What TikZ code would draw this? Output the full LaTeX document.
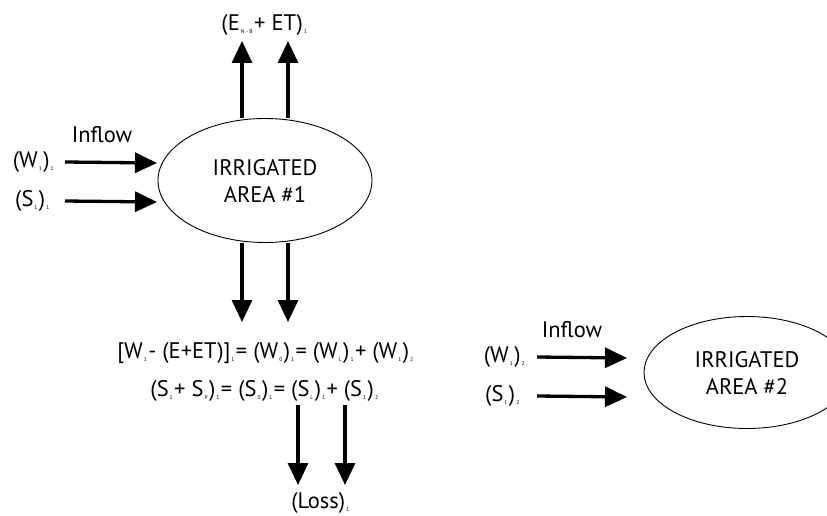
\documentclass[tikz,border=0pt]{standalone}
\usepackage{fontspec}
\setmainfont{PT Sans}
\usetikzlibrary{positioning, arrows.meta, shapes.geometric}

\newcommand{\lo}[1]{\kern1pt\raisebox{-3pt}{\fontsize{5.5}{5.5}\selectfont #1}\kern1.5pt}

\begin{document}
\begin{tikzpicture}[x=1pt, y=-1pt, node distance=2pt,
	font=\fontsize{22.5}{27}\selectfont,
	area/.style={ellipse, draw, line width=0.9pt, inner sep=0pt, align=center},
	flow/.style={-{Triangle[length=22pt,width=20pt]}, line width=3.3pt}]
	\useasboundingbox (0,0) rectangle (827,516);

	% first field
	\node[area, minimum width=214pt, minimum height=124pt] (area1) at (265,180.5) {IRRIGATED\\AREA \#1};
	\node (evap) at (265,25) {(E\lo{N - B} + ET)\lo{1}};
	\node (w11) at (34,162) {(W\lo{1})\lo{1}};
	\node (s11) at (33,201) {(S\lo{1})\lo{1}};
	\node (inflow1) at (102,135) {Inflow};

	\coordinate (up1) at (242,41);
	\coordinate (up2) at (288,41);
	\coordinate (dn1) at (242,322);
	\coordinate (dn2) at (288,322);
	\coordinate (in1) at (157,163);
	\coordinate (in2) at (157,202);

	\draw[flow] (up1 |- area1.north) -- (up1);
	\draw[flow] (up2 |- area1.north) -- (up2);
	\draw[flow] (dn1 |- area1.south) -- (dn1);
	\draw[flow] (dn2 |- area1.south) -- (dn2);
	\draw[flow] (w11.east -| 65,0) -- (in1);
	\draw[flow] (s11.east -| 65,0) -- (in2);

	% balance
	\node (wbal) at (266,353) {[W\lo{1} - (E+ET)]\lo{1} = (W\lo{0})\lo{1} = (W\lo{L})\lo{1} + (W\lo{1})\lo{2}};
	\node (sbal) at (265,391) {(S\lo{1} + S\lo{P})\lo{1} = (S\lo{0})\lo{1} = (S\lo{L})\lo{1} + (S\lo{1})\lo{2}};
	\node (loss) at (321,503) {(Loss)\lo{1}};

	\coordinate (ls1) at (298,485);
	\coordinate (ls2) at (345,485);
	\draw[flow] (ls1 |- sbal.south) -- (ls1);
	\draw[flow] (ls2 |- sbal.south) -- (ls2);

	% second field
	\node[area, minimum width=206pt, minimum height=112pt] (area2) at (747,372.5) {IRRIGATED\\AREA \#2};
	\node (w12) at (505,357) {(W\lo{1})\lo{2}};
	\node (s12) at (503,396) {(S\lo{1})\lo{2}};
	\node (inflow2) at (572,330) {Inflow};

	\coordinate (in3) at (627,358);
	\coordinate (in4) at (627,397);
	\draw[flow] (w12.east -| 537,0) -- (in3);
	\draw[flow] (s12.east -| 537,0) -- (in4);
\end{tikzpicture}
\end{document}
